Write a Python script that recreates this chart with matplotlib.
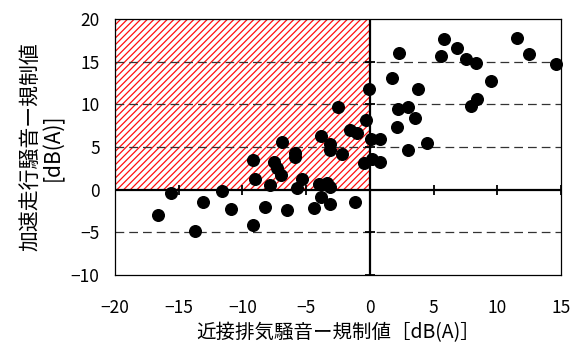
import numpy as np
import matplotlib
matplotlib.use('Agg')
import matplotlib.pyplot as plt
from matplotlib.patches import Rectangle

plt.rcParams['font.family'] = ['Noto Sans CJK JP', 'DejaVu Sans']
plt.rcParams['hatch.linewidth'] = 0.9

# proximity exhaust noise minus limit, acceleration noise minus limit [dB(A)]
exhaust = [-0.1, -2.5, -0.3, -1.6, -1.0, -3.8, -3.1, -3.1, -2.2, -6.9,
           -9.2, -7.5, -7.3, -7.0, -5.9, -5.9, -0.5, 0.2, -9.0, -7.8,
           -5.3, -5.7, -4.0, -3.4, -3.1, -3.8, -3.1, -1.2, -4.4, -6.5,
           -8.2, -9.2, -10.9, -11.6, -13.1, -13.7, -15.6, -16.6,
           0.1, 0.8, 0.8, 2.3, 1.7, 3.8, 2.2, 3.0, 2.1, 3.5, 3.0, 4.5,
           5.8, 5.6, 6.8, 7.5, 8.3, 9.5, 7.9, 8.4, 11.5, 12.5, 14.6]
accel = [11.8, 9.7, 8.2, 7.0, 6.6, 6.3, 5.4, 4.7, 4.2, 5.6,
         3.5, 3.3, 2.5, 1.7, 4.3, 3.8, 3.1, 3.6, 1.2, 0.6,
         1.3, 0.2, 0.7, 0.8, 0.3, -0.9, -1.7, -1.4, -2.2, -2.4,
         -2.0, -4.1, -2.3, -0.1, -1.4, -4.9, -0.4, -3.0,
         6.0, 5.9, 3.2, 16.0, 13.1, 11.8, 9.5, 9.7, 7.4, 8.4, 4.6, 5.5,
         17.7, 15.7, 16.6, 15.3, 14.9, 12.7, 9.8, 10.6, 17.8, 15.9, 14.7]

xticks = [-20, -15, -10, -5, 0, 5, 10, 15]
yticks = [-10, -5, 0, 5, 10, 15, 20]
grid_y = [-5, 5, 10, 15]

fig = plt.figure(figsize=(5.72, 3.42), dpi=100)
ax = fig.add_axes([0.201, 0.196, 0.780, 0.748])
ax.set_xlim(-20, 15)
ax.set_ylim(-10, 20)

# hatched region: exhaust below limit but accel above limit
ax.add_patch(Rectangle((-20, 0), 20, 20, facecolor='white', edgecolor='#ff1010',
                       hatch='/////', lw=0, zorder=1))

for gy in grid_y:
    ax.axhline(gy, color='#333333', lw=0.9, ls=(0, (7, 4)), zorder=2)

ax.axhline(0, color='black', lw=1.6, zorder=3)
ax.axvline(0, color='black', lw=1.6, zorder=3)
ax.plot(xticks, [0] * len(xticks), ls='none', marker='|', ms=7, mew=1.3,
        color='black', zorder=3)
ax.plot([0] * len(yticks), yticks, ls='none', marker='_', ms=7, mew=1.3,
        color='black', zorder=3)

ax.scatter(exhaust, accel, s=70, color='black', zorder=4, clip_on=False)

ax.set_xticks(xticks)
ax.set_yticks(yticks)
ax.set_xticklabels([f'−{-t}' if t < 0 else str(t) for t in xticks])
ax.set_yticklabels([f'−{-t}' if t < 0 else str(t) for t in yticks])
ax.tick_params(axis='x', length=0, pad=17, labelsize=12.5)
ax.tick_params(axis='y', length=0, pad=11, labelsize=12.5)
for s in ax.spines.values():
    s.set_linewidth(0.9)

ax.set_xlabel('近接排気騒音ー規制値［dB(A)］', fontsize=14)
ax.xaxis.set_label_coords(0.5, -0.186)
ax.set_ylabel('加速走行騒音ー規制値\n[dB(A)]', fontsize=15, linespacing=1.0)
ax.yaxis.set_label_coords(-0.115, 0.5)

fig.savefig('out.png', dpi=100)
